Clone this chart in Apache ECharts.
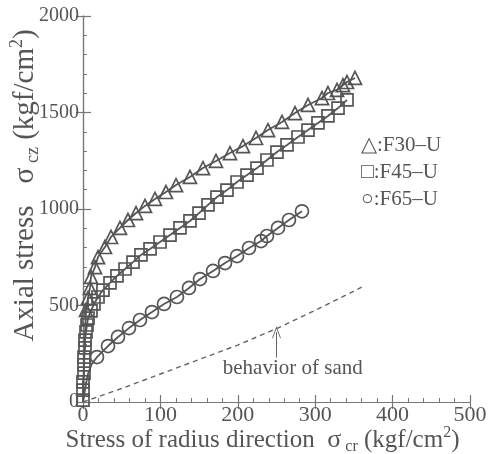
<!DOCTYPE html>
<html><head><meta charset="utf-8">
<script src="https://cdn.jsdelivr.net/npm/echarts@6/dist/echarts.min.js"></script>
<style>html,body{margin:0;padding:0;background:#fff}#c{width:493px;height:454px}</style>
</head><body><div id="c"></div>
<script>
// ---- data ----
const xTicks = [0, 100, 200, 300, 400, 500];
const yTicks = [0, 500, 1000, 1500, 2000];
const seriesNames = ['F30-U', 'F45-U', 'F65-U', 'behavior of sand'];
// leading points drawn as line only (no marker)
const f30Lead = [[0, 0], [1, 150], [2.5, 330]];
const f30 = [[3.9, 477], [6.5, 539], [9.0, 591], [10.3, 648], [15.5, 699], [19.4, 751], [28.4, 803], [36.2, 855], [47.8, 902], [58.1, 943], [68.5, 979], [80.1, 1016], [93.0, 1052], [107.2, 1088], [120.2, 1124], [138.2, 1166], [155.0, 1212], [171.8, 1249], [189.9, 1290], [206.7, 1326], [223.5, 1368], [239.0, 1409], [257.1, 1451], [273.9, 1497], [290.7, 1539], [308.8, 1575], [316.5, 1601], [328.2, 1617], [335.9, 1642], [341.1, 1658], [351.4, 1679]];
const f45Lead = [];
const f45 = [[0, 10], [0, 62], [0, 104], [1.3, 150], [1.3, 192], [1.3, 233], [2.6, 280], [2.6, 321], [3.9, 363], [5.2, 399], [6.5, 435], [10.3, 472], [14.2, 508], [19.4, 544], [25.8, 580], [34.9, 617], [43.9, 653], [54.3, 689], [64.6, 725], [74.9, 762], [86.6, 793], [99.5, 829], [112.4, 865], [125.3, 902], [138.2, 938], [149.9, 979], [161.5, 1021], [173.1, 1062], [186.0, 1098], [199.0, 1140], [211.9, 1176], [224.8, 1212], [237.7, 1254], [250.6, 1295], [263.6, 1332], [277.8, 1373], [290.7, 1409], [303.6, 1446], [316.5, 1482], [329.5, 1523], [341.1, 1565]];
const f65Lead = [[0, 0], [2.5, 60], [6, 140], [11, 195]];
const f65 = [[18.1, 233], [32.3, 290], [45.2, 337], [59.4, 383], [73.6, 425], [89.1, 466], [104.7, 508], [121.4, 544], [136.9, 591], [151.2, 637], [168.0, 679], [183.5, 720], [199.0, 756], [214.5, 798], [230.0, 834], [237.7, 860], [251.9, 902], [266.1, 943], [282.9, 988]];
const sand = [[0, 0], [50, 70], [100, 145], [150, 220], [200, 295], [250, 380], [300, 475], [360, 595]];
const legendLabels = ['△:F30–U', '□:F45–U', '○:F65–U'];

const FONT = "'Liberation Serif','Times New Roman',serif";
const INK = '#555';
const TXT = '#555';

function withLead(lead, pts) {
  return lead.map(p => ({ value: p, symbol: 'none' })).concat(pts.map(p => ({ value: p })));
}

function markerSeries(name, lead, pts, symbol, size) {
  return {
    name: name, type: 'line', data: withLead(lead, pts),
    symbol: symbol, symbolSize: size, showAllSymbol: true,
    lineStyle: { color: INK, width: 1.8 },
    itemStyle: { color: 'rgba(0,0,0,0)', borderColor: INK, borderWidth: 1.7 },
    emphasis: { disabled: true }, animation: false, z: 3
  };
}

const chart = echarts.init(document.getElementById('c'), null, { renderer: 'canvas' });

const axisLineStyle = { show: true, lineStyle: { color: '#777', width: 1.2 } };
function titleRich(fs) {
  const lh = fs + 5;
  return {
    t: { fontFamily: FONT, fontSize: fs, color: TXT, lineHeight: lh },
    s: { fontFamily: FONT, fontSize: fs + 1, color: TXT, lineHeight: lh },
    sub: { fontFamily: FONT, fontSize: Math.round(fs * 0.62), color: TXT, lineHeight: Math.round(fs * 0.65), verticalAlign: 'bottom' },
    sup: { fontFamily: FONT, fontSize: Math.round(fs * 0.62), color: TXT, lineHeight: Math.round(fs * 0.65), verticalAlign: 'top' }
  };
}
const plain = v => String(v);

chart.setOption({
  backgroundColor: '#fff',
  animation: false,
  grid: { left: 83, right: 23, top: 16, bottom: 52, containLabel: false, outerBoundsMode: 'none' },
  xAxis: [{
    type: 'value', position: 'bottom', min: xTicks[0], max: xTicks[xTicks.length - 1], interval: 100,
    axisLine: axisLineStyle,
    axisTick: { show: true, inside: true, length: 7, lineStyle: { color: '#777', width: 1.2 } },
    minorTick: { show: true, splitNumber: 5, length: 4, lineStyle: { color: '#777', width: 1 } },
    splitLine: { show: false },
    axisLabel: { fontFamily: FONT, fontSize: 22, color: TXT, margin: 2, formatter: plain },
    name: '{t|Stress of radius direction  }{s|σ}{sub| cr}{t| (kgf/cm}{sup|2}{t|)}',
    nameLocation: 'middle', nameGap: 23, nameMoveOverlap: false,
    nameTextStyle: { rich: titleRich(25), padding: [0, 28, 0, 0] }
  }, {
    type: 'value', position: 'top', min: xTicks[0], max: xTicks[xTicks.length - 1], interval: 100,
    axisLine: axisLineStyle,
    axisTick: { show: true, inside: true, length: 7, lineStyle: { color: '#777', width: 1.2 } },
    splitLine: { show: false }, axisLabel: { show: false }
  }],
  yAxis: [{
    type: 'value', position: 'left', min: yTicks[0], max: yTicks[yTicks.length - 1], interval: 500,
    axisLine: axisLineStyle,
    axisTick: { show: true, inside: true, length: 8, lineStyle: { color: '#777', width: 1.2 } },
    minorTick: { show: true, splitNumber: 5, length: 4, lineStyle: { color: '#777', width: 1 } },
    splitLine: { show: false },
    axisLabel: { fontFamily: FONT, fontSize: 20, color: TXT, margin: 4, formatter: plain },
    name: '{t|Axial stress   }{s|σ}{sub| cz}{t| (kgf/cm}{sup|2}{t|)}',
    nameLocation: 'middle', nameGap: 41, nameRotate: 90, nameMoveOverlap: false,
    nameTextStyle: { rich: titleRich(29), padding: [0, 0, 0, 47] }
  }, {
    type: 'value', position: 'right', min: yTicks[0], max: yTicks[yTicks.length - 1], interval: 500,
    axisLine: axisLineStyle,
    axisTick: { show: true, inside: true, length: 7, lineStyle: { color: '#777', width: 1.2 } },
    splitLine: { show: false }, axisLabel: { show: false }
  }],
  series: [
    markerSeries(seriesNames[0], f30Lead, f30, 'triangle', 13),
    markerSeries(seriesNames[1], f45Lead, f45, 'rect', 12),
    markerSeries(seriesNames[2], f65Lead, f65, 'circle', 13),
    {
      name: seriesNames[3], type: 'line', data: sand, symbol: 'none',
      lineStyle: { color: '#666', width: 1.4, type: [5, 4] },
      emphasis: { disabled: true }, z: 2,
      markLine: {
        silent: true, symbol: ['none', 'path://M0,12 L5,0 L10,12 L9,12 L5,2.5 L1,12 Z'], symbolSize: [9, 12],
        lineStyle: { color: '#666', width: 1, type: 'solid' }, label: { show: false },
        data: [[{ coord: [250, 230] }, { coord: [250, 362] }]]
      },
      markPoint: {
        silent: true, symbol: 'circle', symbolSize: 0,
        label: { show: true, position: 'inside', formatter: seriesNames[3], fontFamily: FONT, fontSize: 21, color: TXT },
        data: [{ coord: [271, 176] }]
      }
    }
  ],
  graphic: legendLabels.map((t, i) => ({
    type: 'text', left: 361, top: 135 + i * 27,
    style: { text: t, fontFamily: FONT, fontSize: 21, fill: TXT }
  }))
});
</script></body></html>
